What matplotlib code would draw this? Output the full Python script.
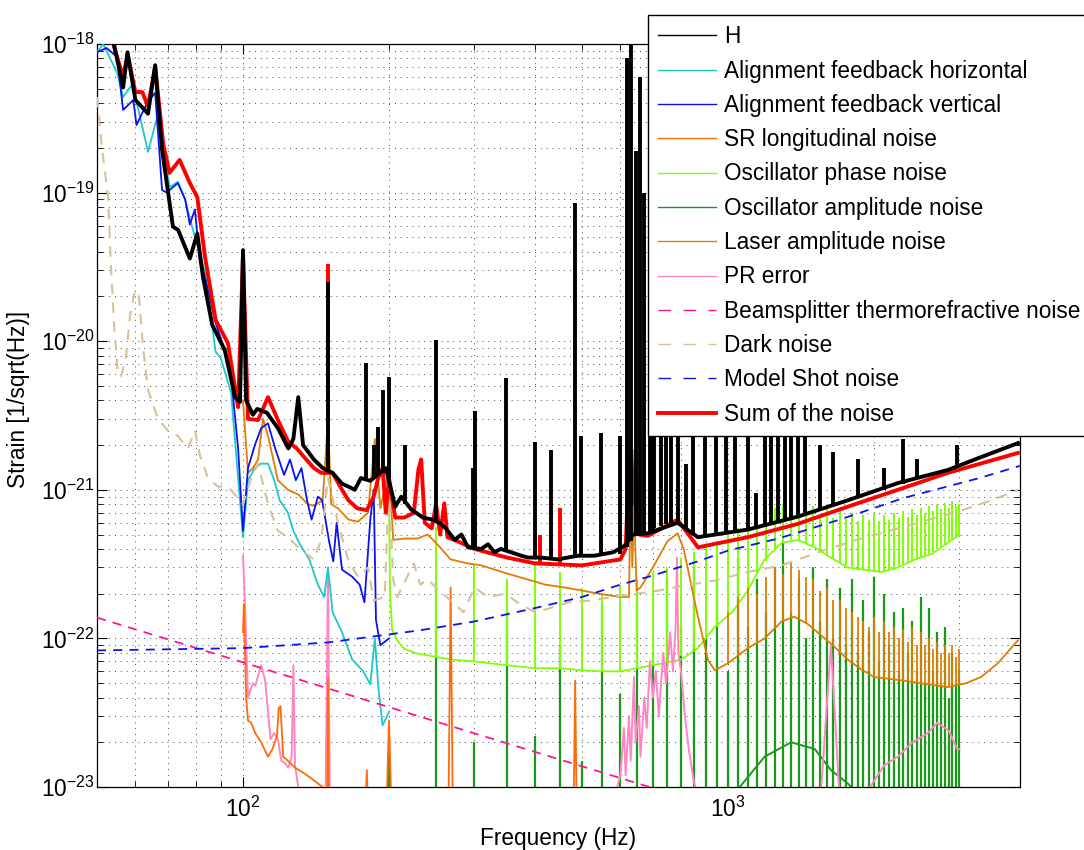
import numpy as np
import matplotlib.pyplot as plt
from matplotlib.lines import Line2D
from matplotlib.ticker import NullFormatter

# -------------------------- SETTINGS ----------------------------
WIDTH = 10.84  # inches
HEIGHT = 8.5  # inches
DPI = 100
FONT_SIZE = 16.3

plt.rcParams['font.family'] = ['Liberation Sans', 'DejaVu Sans']
plt.rcParams['mathtext.default'] = 'regular'
plt.rcParams['font.size'] = FONT_SIZE

C_H = 'black'
C_AFH = '#1ec8c8'
C_AFV = '#0a14f0'
C_SR = '#ff6a0a'
C_OSCP = '#80ff00'
C_OSCA = '#1a9a1a'
C_LASER = '#e07d00'
C_PR = '#ff85c4'
C_BS = '#ff1493'
C_DARK = '#d8c09a'
C_SHOT = '#0a14f0'
C_SUM = '#ff0000'

# ----------------------------- DATA -----------------------------
# H (measured strain), broadband part and narrow lines
h_freq = [50, 54, 56.6, 57.8, 60, 63.7, 65.9, 68.1, 71.7, 73.5, 77.7, 80.5, 82.7, 86.4, 91.7,
          96.3, 98.6, 100, 101.5, 104.8, 107, 112, 118, 124, 127, 130, 133, 140, 146, 153, 160,
          165, 170, 175, 183, 197, 206, 212, 222, 235, 246, 254, 262, 273, 282, 291, 310, 320,
          330, 340, 357, 375, 387, 411, 446, 467, 490, 530, 580, 612, 636, 684, 787, 867, 1099,
          1393, 1766, 2240, 2840, 3325, 3960]
h_strain = [1.3e-18, 1.05e-18, 5.1e-19, 8.8e-19, 4.2e-19, 3.4e-19, 7.2e-19, 1.94e-19, 5.9e-20,
            5.6e-20, 3.6e-20, 5.3e-20, 2.7e-20, 1.29e-20, 8.7e-21, 4.2e-21, 3.9e-21, 4.1e-20,
            4.0e-21, 3.2e-21, 3.5e-21, 3.3e-21, 2.6e-21, 1.9e-21, 2.2e-21, 4.2e-21, 2.0e-21,
            1.6e-21, 1.4e-21, 1.3e-21, 1.1e-21, 1.05e-21, 1.0e-21, 1.2e-21, 1.15e-21, 1.4e-21,
            7.7e-22, 9e-22, 7.4e-22, 6.5e-22, 6.3e-22, 6e-22, 5.5e-22, 4.6e-22, 5e-22, 4.1e-22,
            4.0e-22, 4.3e-22, 3.8e-22, 4.0e-22, 3.8e-22, 3.6e-22, 3.5e-22, 3.5e-22, 3.4e-22,
            3.5e-22, 3.6e-22, 3.6e-22, 3.8e-22, 4.2e-22, 5e-22, 5.1e-22, 6.0e-22, 4.8e-22,
            5.4e-22, 6.6e-22, 8.5e-22, 1.11e-21, 1.36e-21, 1.66e-21, 2.06e-21]

h_line_freq = [150, 179, 186, 190, 194, 200, 216, 250, 298, 301,
               348, 400, 431, 484, 498, 548, 598, 620, 630, 646,
               660, 672, 690, 700, 705, 727, 745, 763, 789, 819,
               847, 897, 945, 991, 1033, 1099, 1142, 1192, 1227, 1268,
               1311, 1349, 1394, 1442, 1550, 1650, 1850, 2100, 2290, 2450,
               2970]
h_line_base = [1.35e-21, 1.15e-21, 1.2e-21, 1.25e-21, 1.3e-21, 1.2e-21, 8e-22, 6.2e-22, 4.2e-22,
               4.1e-22, 3.9e-22, 3.5e-22, 3.4e-22, 3.5e-22, 3.6e-22, 3.6e-22, 3.7e-22, 4.1e-22,
               4.5e-22, 4.9e-22, 5.0e-22, 5.1e-22, 5.3e-22, 5.4e-22, 5.5e-22, 5.7e-22, 5.9e-22,
               6.0e-22, 6.0e-22, 5.5e-22, 5.0e-22, 4.8e-22, 4.9e-22, 5.1e-22, 5.2e-22, 5.4e-22,
               5.5e-22, 5.7e-22, 5.8e-22, 6.0e-22, 6.2e-22, 6.4e-22, 6.6e-22, 6.8e-22, 7.4e-22,
               7.9e-22, 9.1e-22, 1.0e-21, 1.1e-21, 1.2e-21, 1.4e-21]
h_line_top = [2.5e-20, 7.1e-21, 2.0e-21, 2.65e-21, 4.7e-21, 5.7e-21, 2.0e-21, 1.02e-20, 1.4e-21,
              3.4e-21, 5.65e-21, 2.1e-21, 1.85e-21, 8.5e-20, 2.3e-21, 2.4e-21, 2.3e-21, 8e-19,
              1.5e-18, 1.9e-19, 6e-19, 1e-19, 3e-20, 1e-19, 5e-20, 2e-20, 8e-21, 5e-21, 6e-21,
              1.5e-21, 4e-21, 1e-20, 5e-21, 4e-21, 3e-21, 5e-21, 9.5e-22, 4e-21, 3e-21, 4e-21,
              3e-21, 4e-21, 3e-21, 2.8e-21, 2e-21, 1.8e-21, 1.6e-21, 1.4e-21, 2.2e-21, 1.6e-21,
              2e-21]

# Sum of the noise
sum_freq = [50, 54, 56.6, 57.8, 60, 62, 63.7, 65.9, 68.5, 70.6, 74, 77.7, 80.5, 83.5, 87.8, 93.1,
            97.7, 100, 102.4, 107.4, 112.6, 118, 124, 129, 135, 140, 145, 153, 160, 165, 172,
            180, 186, 190, 194, 197, 200, 206, 215, 225, 230, 233, 237, 245, 250, 255, 260, 264,
            273, 300, 350, 400, 500, 600, 615, 625, 632, 638, 645, 655, 684, 787, 867, 1099,
            1393, 1766, 2240, 2840, 3960]
sum_strain = [1.2e-18, 1.0e-18, 6e-19, 8.5e-19, 4.75e-19, 4.75e-19, 3.8e-19, 7e-19, 2.1e-19,
              1.36e-19, 1.66e-19, 1.16e-19, 9.3e-20, 3.7e-20, 1.39e-20, 9.7e-21, 3.6e-21,
              3.8e-20, 3.0e-21, 2.95e-21, 4.2e-21, 2.95e-21, 2.1e-21, 1.9e-21, 1.6e-21, 1.4e-21,
              1.3e-21, 1.3e-21, 1.0e-21, 8.5e-22, 7.5e-22, 7.3e-22, 9e-22, 1.2e-21, 1.4e-21,
              7e-22, 1.2e-21, 6.5e-22, 6.5e-22, 7e-22, 1.37e-21, 1.6e-21, 6e-22, 5.5e-22, 8e-22,
              5e-22, 8.1e-22, 4.8e-22, 4.6e-22, 4.0e-22, 3.5e-22, 3.2e-22, 3.1e-22, 3.4e-22,
              4e-22, 1.5e-21, 1.85e-21, 8e-22, 1.2e-21, 5e-22, 4.9e-22, 6.3e-22, 4.1e-22,
              4.8e-22, 5.9e-22, 7.7e-22, 1.0e-21, 1.3e-21, 1.77e-21]
sum_line_freq = [150, 410, 450]
sum_line_base = [1.3e-21, 3.2e-22, 3.1e-22]
sum_line_top = [3.3e-20, 5e-22, 7.5e-22]

# Alignment feedback horizontal
afh_freq = [50, 51.5, 55, 56.6, 59, 61, 63.7, 66.5, 68.1, 70.6, 73.4, 76, 78.2, 83.5, 87.8, 90,
            94.5, 97.7, 100, 102.4, 105.8, 109, 112.6, 116, 119, 123.8, 127, 131, 137, 142.7,
            147, 149.7, 153, 160, 168, 177, 183, 187, 190, 194, 200]
afh_strain = [8.8e-19, 1.0e-18, 6.4e-19, 4.4e-19, 5.3e-19, 3.5e-19, 1.88e-19, 3.2e-19, 2.15e-19,
              1.09e-19, 1.18e-19, 8.9e-20, 6.2e-20, 2.9e-20, 8.5e-21, 7.7e-21, 4.5e-21, 1.2e-21,
              4.8e-22, 1.16e-21, 1.4e-21, 1.5e-21, 1.5e-21, 1.16e-21, 8.5e-22, 7e-22, 5.3e-22,
              4.3e-22, 3.4e-22, 2.3e-22, 1.9e-22, 3e-22, 1.5e-22, 1.1e-22, 7.2e-23, 6e-23,
              4.9e-23, 1.0e-22, 4.8e-23, 2.6e-23, 3.2e-23]

# Alignment feedback vertical
afv_freq = [50, 52.3, 55, 56.6, 59.4, 60.3, 63.4, 65.9, 68.1, 69.6, 73.4, 76, 77.7, 79.6, 81.5,
            83.5, 87.8, 91.7, 94.5, 97.7, 100, 102.4, 105.8, 109, 112.6, 116.5, 121.5, 125,
            128.5, 132, 135.5, 138.5, 142.7, 145.6, 150.5, 153.5, 156, 160, 168, 174, 178, 183,
            186, 188, 192, 200]
afv_strain = [8.8e-19, 9.4e-19, 8.2e-19, 3.6e-19, 4.2e-19, 2.85e-19, 4.0e-19, 4.7e-19, 1.04e-19,
              1.0e-19, 1.16e-19, 9e-20, 6.1e-20, 7.7e-20, 3.4e-20, 2.7e-20, 1.33e-20, 8.7e-21,
              5.8e-21, 1.9e-21, 5.3e-22, 1.4e-21, 2e-21, 2.6e-21, 2.8e-21, 1.9e-21, 1.26e-21,
              1.6e-21, 1.16e-21, 1.4e-21, 8.5e-22, 6.3e-22, 9e-22, 8.5e-22, 4.5e-22, 3.3e-22,
              6e-22, 2.9e-22, 2.6e-22, 2.3e-22, 1.75e-22, 6.3e-22, 1.0e-21, 1.33e-22, 9e-23,
              1.0e-22]

# SR longitudinal noise
sr_freq = [100, 100.4, 101.5, 102.4, 104, 106, 109, 112.6, 115, 117.5, 118.5, 119.5, 121, 123.8,
           128, 133, 138, 143, 146, 149, 149.7, 150.5, 152, 178, 180, 182, 197, 200, 203, 265,
           268, 271, 480, 484, 488, 700]
sr_strain = [1.1e-22, 1.7e-22, 4.0e-23, 2.8e-23, 2.7e-23, 2.3e-23, 2.0e-23, 1.6e-23, 1.8e-23,
             2.2e-23, 3.4e-23, 3.5e-23, 1.6e-23, 1.5e-23, 1.35e-23, 1.25e-23, 1.15e-23, 1.05e-23,
             1.0e-23, 5e-24, 5.3e-23, 5e-24, 5e-24, 5e-24, 1.3e-23, 5e-24, 5e-24, 2.8e-23, 5e-24,
             5e-24, 2.2e-22, 5e-24, 5e-24, 5.2e-23, 5e-24, 5e-24]

# Oscillator phase noise (floor)
oscp_freq = [200, 201, 203, 208, 215, 229, 240, 250, 270, 300, 350, 400, 450, 500, 550, 600,
             650, 700, 800, 867, 940, 1020, 1099, 1190, 1290, 1393, 1510, 1630, 1766, 1910,
             2070, 2240, 2430, 2630, 2840, 3000]
oscp_strain = [1.0e-21, 2e-22, 1.14e-22, 9.7e-23, 8.5e-23, 7.9e-23, 7.7e-23, 7.5e-23, 7.2e-23,
               7.0e-23, 6.6e-23, 6.3e-23, 6.3e-23, 6.1e-23, 6.0e-23, 6.0e-23, 6.3e-23, 6.6e-23,
               7.2e-23, 8.6e-23, 1.2e-22, 1.5e-22, 2.1e-22, 3.4e-22, 4.4e-22, 4.6e-22, 4.1e-22,
               3.5e-22, 3.0e-22, 2.9e-22, 2.8e-22, 3.0e-22, 3.4e-22, 3.7e-22, 4.4e-22, 5.0e-22]

# 50 Hz mains harmonics seen in the oscillator and laser channels
mains_hz = [200, 250, 300, 350, 400, 450, 500, 550, 600, 650, 700, 750, 800, 850, 900, 950,
            1000, 1050, 1100, 1150, 1200, 1250, 1300, 1350, 1400, 1450, 1500, 1550, 1600, 1650,
            1700, 1750, 1800, 1850, 1900, 1950, 2000, 2050, 2100, 2150, 2200, 2250, 2300, 2350,
            2400, 2450, 2500, 2550, 2600, 2650, 2700, 2750, 2800, 2850, 2900, 2950, 3000]

# oscillator phase lines, 250 Hz .. 3000 Hz
oscp_line_base = [7.5e-23, 7.0e-23, 6.6e-23, 6.3e-23, 6.3e-23, 6.1e-23, 6.0e-23, 6.0e-23,
                  6.3e-23, 6.6e-23, 7.0e-23, 7.6e-23, 8.5e-23, 1.0e-22, 1.2e-22, 1.4e-22,
                  1.7e-22, 2.1e-22, 2.7e-22, 3.3e-22, 4.0e-22, 4.4e-22, 4.6e-22, 4.6e-22,
                  4.4e-22, 4.1e-22, 3.9e-22, 3.6e-22, 3.4e-22, 3.2e-22, 3.0e-22, 3.0e-22,
                  2.9e-22, 2.9e-22, 2.9e-22, 2.8e-22, 2.8e-22, 2.8e-22, 2.9e-22, 2.9e-22,
                  3.0e-22, 3.1e-22, 3.2e-22, 3.3e-22, 3.4e-22, 3.5e-22, 3.6e-22, 3.7e-22,
                  3.8e-22, 4.0e-22, 4.1e-22, 4.3e-22, 4.4e-22, 4.6e-22, 4.8e-22, 5.0e-22]
oscp_line_top = [5.6e-22, 3.1e-22, 2.5e-22, 3.1e-22, 2.8e-22, 2.2e-22, 2.0e-22, 2.3e-22, 2.5e-22,
                 2.8e-22, 3.0e-22, 3.5e-22, 3.8e-22, 4.2e-22, 4.5e-22, 5.0e-22, 5.5e-22, 6.0e-22,
                 6.5e-22, 7.0e-22, 7.5e-22, 8.0e-22, 7.5e-22, 8.0e-22, 7.0e-22, 7.8e-22, 6.8e-22,
                 7.5e-22, 6.5e-22, 7.2e-22, 6.4e-22, 7.0e-22, 6.2e-22, 6.8e-22, 6.3e-22, 7.0e-22,
                 6.2e-22, 6.8e-22, 6.3e-22, 7.0e-22, 6.5e-22, 7.2e-22, 6.6e-22, 7.4e-22, 6.8e-22,
                 7.6e-22, 7.0e-22, 7.8e-22, 7.2e-22, 8.0e-22, 7.4e-22, 8.2e-22, 7.6e-22, 8.4e-22,
                 7.8e-22, 8.0e-22]

# oscillator amplitude noise: broad bump plus mains lines, 200 Hz .. 3000 Hz
osca_freq = [1000, 1083, 1190, 1350, 1510, 1630, 1770, 1900]
osca_strain = [8e-24, 1.1e-23, 1.6e-23, 2.0e-23, 1.8e-23, 1.3e-23, 1.05e-23, 8e-24]
osca_line_top = [2.1e-23, 2.4e-22, 2.0e-23, 1.5e-22, 2.2e-23, 9e-23, 1.5e-23, 1.7e-22, 4.2e-23,
                 2.0e-22, 8e-23, 2.5e-22, 1.2e-22, 3e-22, 1.0e-22, 2.5e-22, 6e-23, 3.5e-22,
                 1.2e-22, 2.5e-22, 1.5e-22, 3e-22, 4.5e-22, 1.5e-22, 2.5e-22, 1.0e-22, 3e-22,
                 1.3e-22, 2.5e-22, 1.0e-22, 2.2e-22, 9e-23, 2.5e-22, 8e-23, 1.8e-22, 1.1e-22,
                 2.6e-22, 7e-23, 2.0e-22, 9e-23, 1.5e-22, 6e-23, 1.6e-22, 8e-23, 1.3e-22, 6e-23,
                 1.9e-22, 5e-23, 1.6e-22, 6e-23, 1.1e-22, 5e-23, 1.2e-22, 4e-23, 8e-23, 5e-23,
                 6e-23]

# Laser amplitude noise
laser_freq = [100, 102.4, 104.8, 107.4, 110, 113, 118, 123.8, 130, 136, 140, 146, 149.7, 152,
              157, 165, 172.6, 181, 187, 192, 200, 204, 215, 229, 240, 250, 268, 290, 310, 348,
              385, 420, 460, 500, 540, 600, 625, 630, 635, 640, 648, 660, 700, 750, 787, 810,
              867, 910, 940, 1000, 1099, 1190, 1290, 1370, 1460, 1650, 1766, 1880, 2000, 2300,
              2840, 3100, 3325, 3600, 3960]
laser_strain = [4e-21, 1.3e-21, 1.4e-21, 1.6e-21, 3.0e-21, 2.2e-21, 1.16e-21, 1.0e-21, 9.3e-22,
                8e-22, 7.8e-22, 8.5e-22, 3e-21, 8e-22, 7.5e-22, 6.3e-22, 6.1e-22, 7e-22, 2.2e-21,
                7.5e-22, 1.4e-21, 4.6e-22, 4.7e-22, 4.7e-22, 5e-22, 4.4e-22, 3.4e-22, 3.2e-22,
                3.1e-22, 2.75e-22, 2.5e-22, 2.3e-22, 2.2e-22, 2.1e-22, 2.0e-22, 1.9e-22, 1.9e-22,
                1.0e-21, 3e-22, 8e-22, 2.1e-22, 2.2e-22, 3.0e-22, 4.5e-22, 5.1e-22, 4e-22, 1.4e-22,
                7.1e-23, 6.1e-23, 6.8e-23, 8.6e-23, 1.0e-22, 1.3e-22, 1.4e-22, 1.25e-22, 8.9e-23,
                7.2e-23, 6.2e-23, 5.5e-23, 5.2e-23, 4.7e-23, 5.0e-23, 5.5e-23, 6.8e-23, 9.7e-23]
# laser lines, 1000 Hz .. 3000 Hz
laser_line_base = [6.8e-23, 7.6e-23, 8.6e-23, 9.5e-23, 1.05e-22, 1.2e-22, 1.32e-22, 1.4e-22,
                   1.37e-22, 1.27e-22, 1.15e-22, 1.05e-22, 9.7e-23, 8.9e-23, 8.1e-23, 7.4e-23,
                   7.0e-23, 6.6e-23, 6.2e-23, 5.9e-23, 5.6e-23, 5.5e-23, 5.4e-23, 5.3e-23,
                   5.25e-23, 5.2e-23, 5.15e-23, 5.1e-23, 5.05e-23, 5.0e-23, 4.95e-23, 4.9e-23,
                   4.85e-23, 4.8e-23, 4.75e-23, 4.7e-23, 4.7e-23, 4.7e-23, 4.75e-23, 4.8e-23,
                   4.9e-23]
laser_line_top = [1.5e-22, 1.9e-22, 2.2e-22, 2.0e-22, 2.6e-22, 3.0e-22, 2.7e-22, 3.2e-22, 2.9e-22,
                  2.6e-22, 2.5e-22, 2.1e-22, 2.2e-22, 1.8e-22, 1.8e-22, 1.6e-22, 1.5e-22, 1.4e-22,
                  1.3e-22, 1.2e-22, 1.4e-22, 1.1e-22, 1.3e-22, 1.1e-22, 1.2e-22, 1.0e-22, 1.15e-22,
                  9.5e-23, 1.2e-22, 9e-23, 1.1e-22, 9e-23, 1.0e-22, 8.5e-23, 9.5e-23, 8e-23,
                  9e-23, 8e-23, 9e-23, 7.5e-23, 8.5e-23]

# PR error
pr_freq = [100, 101, 102.4, 104.8, 106, 109, 111, 114, 116, 118, 120, 122, 124, 126, 127, 128,
           130, 131, 148, 149.7, 151, 580, 600, 610, 615, 625, 630, 640, 645, 655, 660, 672,
           680, 690, 700, 710, 720, 735, 745, 760, 770, 780, 785, 790, 800, 815, 830, 850, 870,
           1550, 1630, 1700, 1880, 2000, 2100, 2240, 2400, 2580, 2700, 2850, 2970, 3000]
pr_strain = [3.6e-22, 1.6e-22, 4e-23, 5e-23, 4.8e-23, 6.6e-23, 5.3e-23, 2.1e-23, 2.3e-23,
             2.1e-23, 1.5e-23, 1.45e-23, 1.35e-23, 1.6e-23, 6.6e-23, 1.4e-23, 1.0e-23, 8e-24,
             8e-24, 3e-22, 8e-24, 8e-24, 1.2e-23, 2.5e-23, 1.2e-23, 3e-23, 1.5e-23, 5.5e-23,
             2e-23, 3.5e-23, 1.6e-23, 4e-23, 2.5e-23, 7e-23, 4e-23, 6e-23, 3e-23, 8e-23, 5e-23,
             1.1e-22, 6e-23, 1.2e-22, 3.5e-22, 8e-23, 6e-23, 3e-23, 1.8e-23, 1.1e-23, 8e-24,
             8e-24, 9e-23, 8e-24, 8e-24, 1.1e-23, 1.4e-23, 1.6e-23, 2.0e-23, 2.3e-23, 2.7e-23,
             2.4e-23, 1.8e-23, 1.8e-23]

# Beamsplitter thermorefractive noise
bs_freq = [50, 4000]
bs_strain = [1.38e-22, 1.72e-24]

# Dark noise
dark_freq = [50, 51.2, 52.7, 53.4, 54.3, 55.2, 56, 57.3, 58.5, 59.9, 61, 62.2, 63.7, 66.8, 70,
             73.4, 77, 79.6, 81.5, 84.7, 88.8, 93, 97, 100, 104, 107.4, 112.6, 118, 123.8, 131,
             140, 145, 149.7, 157, 164.6, 172.6, 181, 186, 196, 200, 204, 208, 225, 232, 240,
             250, 268, 285, 300, 320, 348, 372, 400, 430, 470, 520, 580, 650, 720, 800, 940,
             1100, 1290, 1500, 1800, 2150, 2600, 3000, 3500, 3960]
dark_strain = [4.4e-19, 2.0e-19, 9.3e-20, 3.3e-20, 1.2e-20, 6.1e-21, 5.8e-21, 7.5e-21, 1.5e-20,
               2.2e-20, 2.0e-20, 9.2e-21, 4.7e-21, 3.0e-21, 2.5e-21, 2.3e-21, 1.9e-21, 2.5e-21,
               1.7e-21, 1.2e-21, 1.05e-21, 1.05e-21, 9e-22, 8e-22, 1.2e-21, 1.5e-21, 8e-22,
               5.3e-22, 4.8e-22, 4e-22, 3.4e-22, 4.6e-22, 1.2e-21, 6e-22, 3.4e-22, 2.6e-22, 3e-22,
               1.8e-22, 1.9e-22, 1.15e-21, 2.5e-22, 1.9e-22, 3.2e-22, 2.3e-22, 2.5e-22, 2.2e-22,
               1.8e-22, 1.5e-22, 2.2e-22, 1.9e-22, 2e-22, 1.7e-22, 1.5e-22, 1.6e-22, 1.75e-22,
               1.8e-22, 1.9e-22, 2.0e-22, 2.1e-22, 2.25e-22, 2.45e-22, 2.8e-22, 3.1e-22, 3.7e-22,
               4.5e-22, 5.3e-22, 6.3e-22, 7.2e-22, 8.5e-22, 1.0e-21]

# Model shot noise
shot_freq = [50, 100, 150, 230, 300, 400, 500, 600, 700, 867, 1000, 1270, 1700, 2300, 3300, 4000]
shot_strain = [8.3e-23, 8.6e-23, 9.4e-23, 1.13e-22, 1.3e-22, 1.6e-22, 1.9e-22, 2.3e-22, 2.65e-22,
               3.3e-22, 3.9e-22, 4.7e-22, 6.3e-22, 8.8e-22, 1.2e-21, 1.45e-21]

legend_labels = ['H', 'Alignment feedback horizontal', 'Alignment feedback vertical',
                 'SR longitudinal noise', 'Oscillator phase noise', 'Oscillator amplitude noise',
                 'Laser amplitude noise', 'PR error', 'Beamsplitter thermorefractive noise',
                 'Dark noise', 'Model Shot noise', 'Sum of the noise']

# --------------------------- FIGURE -----------------------------
fig = plt.figure(figsize=(WIDTH, HEIGHT), dpi=DPI)
ax = fig.add_axes([97 / 1084, 63 / 850, 923 / 1084, 743 / 850])

DASH = (0, (5, 4))
floor_bottom = 5e-24

# mains lines of the oscillator amplitude channel
ax.vlines(mains_hz, floor_bottom, osca_line_top, colors=C_OSCA, lw=1.6, zorder=2)
ax.plot(osca_freq, osca_strain, color=C_OSCA, lw=1.4, zorder=2)

# oscillator phase
ax.plot(oscp_freq, oscp_strain, color=C_OSCP, lw=1.3, zorder=2.5)
ax.vlines(mains_hz[1:], oscp_line_base, oscp_line_top, colors=C_OSCP, lw=1.4, zorder=2.5)

# laser amplitude
ax.plot(laser_freq, laser_strain, color=C_LASER, lw=1.3, zorder=2.6)
ax.vlines(mains_hz[16:], laser_line_base, laser_line_top, colors=C_LASER, lw=1.3, zorder=2.6)

ax.plot(pr_freq, pr_strain, color=C_PR, lw=1.4, zorder=2.7)
ax.plot(sr_freq, sr_strain, color=C_SR, lw=1.3, zorder=2.8)
ax.plot(afh_freq, afh_strain, color=C_AFH, lw=1.3, zorder=3)
ax.plot(afv_freq, afv_strain, color=C_AFV, lw=1.3, zorder=3.1)

ax.plot(bs_freq, bs_strain, color=C_BS, lw=1.3, ls=DASH, zorder=3.5)
ax.plot(dark_freq, dark_strain, color=C_DARK, lw=1.5, ls=DASH, zorder=3.4)
ax.plot(shot_freq, shot_strain, color=C_SHOT, lw=1.3, ls=DASH, zorder=3.6)

# sum of the noise and measured H on top
ax.plot(sum_freq, sum_strain, color=C_SUM, lw=2.8, zorder=5, solid_joinstyle='round')
ax.vlines(sum_line_freq, sum_line_base, sum_line_top, colors=C_SUM, lw=2.8, zorder=5)
ax.plot(h_freq, h_strain, color=C_H, lw=2.8, zorder=6, solid_joinstyle='round')
ax.vlines(h_line_freq, h_line_base, h_line_top, colors=C_H, lw=2.8, zorder=6)

# ----------------------------- AXES -----------------------------
ax.set_xscale('log')
ax.set_yscale('log')
ax.set_xlim(50, 4000)
ax.set_ylim(1e-23, 1e-18)
ax.xaxis.set_minor_formatter(NullFormatter())
ax.yaxis.set_minor_formatter(NullFormatter())

ax.grid(True, which='both', ls=(0, (1, 5)), color='0.3', lw=0.7)
ax.tick_params(which='both', direction='in', top=True, right=True, labelsize=FONT_SIZE)
ax.tick_params(which='major', length=7, width=0.8)
ax.tick_params(which='minor', length=4, width=0.6)
ax.tick_params(axis='x', pad=7)
ax.tick_params(axis='y', pad=2)
for spine in ax.spines.values():
    spine.set_linewidth(0.9)

ax.set_xlabel('Frequency (Hz)', fontsize=FONT_SIZE)
ax.set_ylabel('Strain [1/sqrt(Hz)]', fontsize=FONT_SIZE)
ax.xaxis.set_label_coords(0.5, -0.054)
ax.yaxis.set_label_coords(-0.0726, 0.521)

# ---------------------------- LEGEND ----------------------------
handles = [
    Line2D([], [], color=C_H, lw=1.0),
    Line2D([], [], color=C_AFH, lw=1.0),
    Line2D([], [], color=C_AFV, lw=1.0),
    Line2D([], [], color=C_SR, lw=1.0),
    Line2D([], [], color=C_OSCP, lw=1.0),
    Line2D([], [], color=C_OSCA, lw=1.0),
    Line2D([], [], color=C_LASER, lw=1.0),
    Line2D([], [], color=C_PR, lw=1.0),
    Line2D([], [], color=C_BS, lw=1.0, ls=(0, (9, 9))),
    Line2D([], [], color=C_DARK, lw=1.0, ls=(0, (9, 9))),
    Line2D([], [], color=C_SHOT, lw=1.0, ls=(0, (9, 9))),
    Line2D([], [], color=C_SUM, lw=2.8),
]
leg = fig.legend(handles, legend_labels, loc='upper left',
                 bbox_to_anchor=(648 / 1084, 1 - 15 / 850), bbox_transform=fig.transFigure,
                 frameon=True, fancybox=False, shadow=False, framealpha=1, edgecolor='black',
                 borderaxespad=0, borderpad=0.45, handlelength=2.55, handletextpad=0.35,
                 labelspacing=0.5, fontsize=FONT_SIZE)
leg.get_frame().set_linewidth(1.0)

fig.savefig('out.png', dpi=DPI)
